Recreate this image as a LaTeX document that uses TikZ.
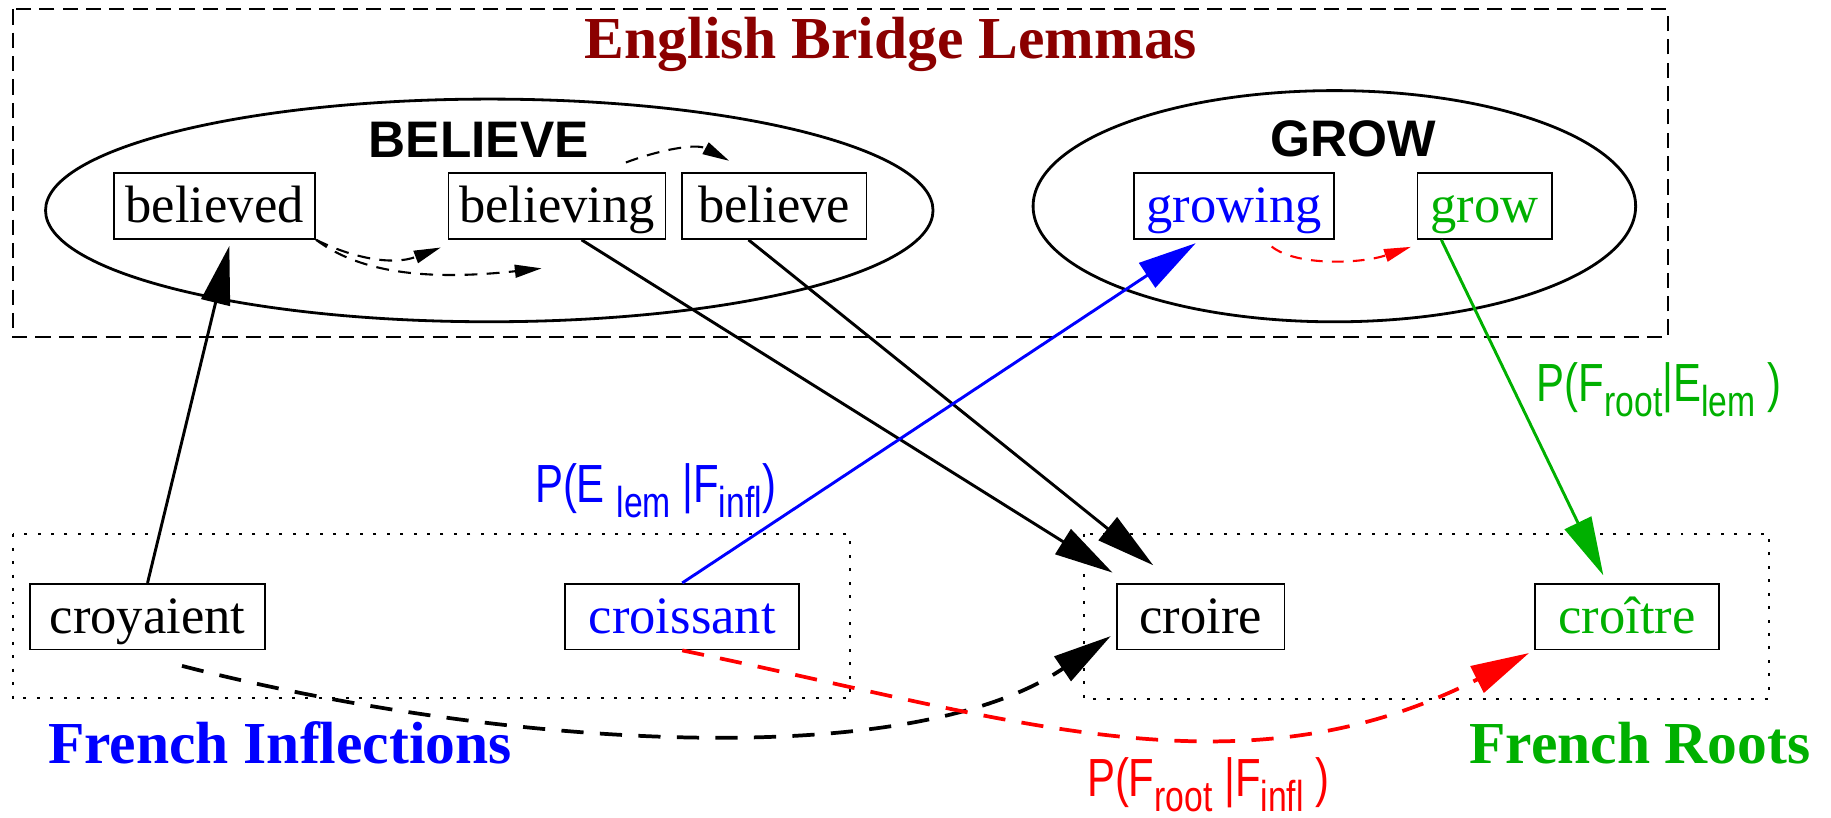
\documentclass[tikz,border=0pt]{standalone}
\usepackage{fontspec}
\setmainfont{Liberation Serif}
\newfontfamily\headsans{Liberation Sans}
\newfontfamily\probsans[FakeStretch=0.78]{Liberation Sans}
\usetikzlibrary{arrows.meta,shapes.geometric}

\definecolor{lemmared}{HTML}{8B0000}
\definecolor{figblue}{HTML}{0000FF}
\definecolor{figgreen}{HTML}{00B000}
\definecolor{figred}{HTML}{FF0000}

% lowered subscript used in the probability labels
\newcommand\lowsub[1]{\raisebox{-13pt}{\fontsize{37}{40}\selectfont #1}}

\tikzset{
  word/.style={draw, line width=1.5pt, inner xsep=0pt, inner ysep=0pt,
    minimum height=56.3pt, text height=42.3pt, text depth=14pt,
    font=\fontsize{45}{50}\selectfont},
  lemma/.style={draw, ellipse, line width=2.4pt, inner sep=0pt},
  lemmatitle/.style={font=\headsans\bfseries\fontsize{44}{48}\selectfont,
    anchor=base, inner sep=0pt},
  grouptitle/.style={font=\bfseries\fontsize{51}{56}\selectfont,
    anchor=base west, inner sep=0pt},
  prob/.style={font=\probsans\fontsize{46}{50}\selectfont,
    anchor=base west, inner sep=0pt},
  bigtip/.style={-{Triangle[length=50pt,width=25pt]}},
  smalltip/.style={-{Triangle[length=23pt,width=11pt]}},
  link/.style={line width=2.5pt, bigtip},
  innerdash/.style={line width=1.8pt, dash pattern=on 11pt off 8pt, smalltip},
  longdash/.style={line width=3.2pt, dash pattern=on 19pt off 14pt, bigtip},
  bridgeframe/.style={line width=1.7pt, dash pattern=on 13pt off 7pt},
  groupframe/.style={line width=1.9pt, dash pattern=on 2.5pt off 9pt},
}

\begin{document}
\begin{tikzpicture}[x=1pt, y=-1pt]
\useasboundingbox (0,0) rectangle (1568,700);

% group frames
\draw[bridgeframe] (11.4,8) rectangle (1428,289);
\draw[groupframe] (11,457.6) rectangle (727.7,598);
\draw[groupframe] (928,457) rectangle (1515,598.3);

% group titles
\node[grouptitle, anchor=base, text=lemmared] (bridgeTitle) at (763,50) {English Bridge Lemmas};
\node[grouptitle, text=figblue] (inflTitle) at (41,653.7) {French Inflections};
\node[grouptitle, text=figgreen] (rootTitle) at (1258,653.6) {French Roots};

% lemma clusters
\node[lemma, minimum width=760pt, minimum height=190.7pt] (believeLemma) at (419,180.2) {};
\node[lemma, minimum width=516pt, minimum height=198pt] (growLemma) at (1142.7,176.6) {};
\node[lemmatitle] (believeTitle) at (410,134.5) {BELIEVE};
\node[lemmatitle] (growTitle) at (1159,134) {GROW};

% English word forms
\node[word, minimum width=172.4pt] (believed) at (183.8,176.5) {believed};
\node[word, minimum width=186pt] (believing) at (477,176.5) {believing};
\node[word, minimum width=158pt] (believe) at (663,176.5) {believe};
\node[word, minimum width=171.6pt, text=figblue] (growing) at (1056.8,176.5) {growing};
\node[word, minimum width=115pt, text=figgreen] (grow) at (1271.3,176.5) {grow};

% French word forms
\node[word, minimum width=200.7pt] (croyaient) at (126.35,528.1) {croyaient};
\node[word, minimum width=200.5pt, text=figblue] (croissant) at (584.25,528.1) {croissant};
\node[word, minimum width=143.4pt] (croire) at (1028.2,528.1) {croire};
\node[word, minimum width=157.7pt, text=figgreen] (croitre) at (1393.2,528.1) {croître};

% probability labels
\node[prob, text=figblue] (probEF) at (458,430) {P(E\ \lowsub{lem}\ |F\lowsub{infl})};
\node[prob, text=figgreen] (probFE) at (1316,344) {P(F\lowsub{root}|E\lowsub{lem}\ )};
\node[prob, text=figred] (probFF) at (930.7,682) {P(F\lowsub{root}\ |F\lowsub{infl}\ )};

% solid links
\draw[link] (croyaient.north) -- ([xshift=12.6pt,yshift=-5.2pt]believed.south);
\draw[link] ([xshift=21pt]believing.south) -- ([xshift=-3.1pt,yshift=8.85pt]croire.north west);
\draw[link] ([xshift=-22pt]believe.south) -- ([xshift=31.8pt,yshift=15.15pt]croire.north west);
\draw[link, figblue] (croissant.north) -- ([xshift=-32.8pt,yshift=-2.85pt]growing.south);
\draw[link, figgreen] ([xshift=-37pt]grow.south) -- ([xshift=-20.2pt,yshift=6.5pt]croitre.north);

% dashed links inside the lemma clusters
\coordinate (driftEnd) at (463.9,229.8);
\draw[innerdash] (believed.south east) .. controls (300,220) and (335,228) ..
  ([xshift=-5.8pt,yshift=-6.55pt]believing.south west);
\draw[innerdash] (believed.south east) .. controls (310,235) and (370,240) .. (driftEnd);
\draw[innerdash] ([xshift=59pt,yshift=8.45pt]believing.north) .. controls (560,130) and (595,122) ..
  ([xshift=41.2pt,yshift=9.85pt]believe.north west);
\draw[innerdash, figred, dash pattern=on 10pt off 8pt] ([xshift=32.2pt,yshift=-5.75pt]growing.south)
  .. controls (1110,228) and (1165,226) .. ([xshift=-4.8pt,yshift=-6pt]grow.south west);

% dashed links between the French groups
\draw[longdash] ([xshift=29.5pt,yshift=-13.25pt]croyaient.south) .. controls (427,640) and (777,663) ..
  ([xshift=-4.5pt,yshift=-16.6pt]croire.west);
\draw[longdash, figred] (croissant.south) .. controls (864.5,614.8) and (1060.3,686) ..
  ([xshift=-4.2pt,yshift=-2.25pt]croitre.south west);
\end{tikzpicture}
\end{document}
